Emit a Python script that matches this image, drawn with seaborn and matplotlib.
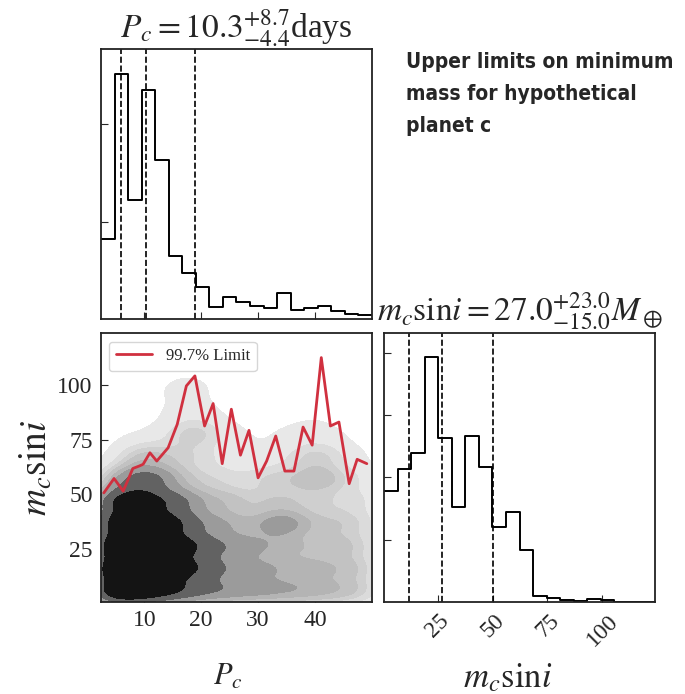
import numpy as np
import pandas as pd
import matplotlib
matplotlib.use("Agg")
import matplotlib.pyplot as plt
from matplotlib import font_manager
from matplotlib.colors import LinearSegmentedColormap
import seaborn as sns

# ---- data ----
p_range = (2.4, 50.0)
m_range = (0.5, 124.0)

# posterior sample counts per bin (20 bins each)
p_counts = [822, 2519, 1222, 2348, 1631, 648, 471, 324, 119, 222,
            171, 137, 109, 266, 96, 109, 130, 78, 51, 41]
m_counts = [894, 1067, 1192, 1963, 1319, 766, 1330, 1085, 601, 726,
            420, 48, 32, 16, 11, 21, 16, 0, 0, 0]

p_quant = [5.9, 10.3, 19.0]
m_quant = [12.0, 27.0, 50.0]

# 99.7% upper limit curve
limit_p = [2.9, 4.7, 6.3, 8.0, 9.1, 9.8, 11.0, 12.2, 14.2, 15.8, 17.4, 18.9,
           20.6, 22.1, 23.7, 25.3, 26.9, 28.4, 30.0, 31.5, 33.1, 34.7, 36.3,
           37.9, 39.5, 41.1, 42.7, 44.2, 46.0, 47.4, 49.1]
limit_m = [50.6, 57.2, 51.4, 61.8, 62.9, 63.7, 69.0, 65.2, 71.3, 82.1, 99.7, 104.3,
           81.3, 91.6, 64.0, 89.0, 67.9, 79.3, 57.5, 65.2, 76.7, 60.6, 60.6,
           80.8, 72.5, 112.7, 81.3, 83.1, 54.8, 66.0, 64.0]

# relative sample density (0-10), rows = m bins from bottom, cols = P bins
density = [
    [10, 10, 9, 8, 7, 6, 5, 4.5, 4, 4, 3.5, 3.5, 3.5, 3, 3, 3, 2.5, 2.5, 2, 2],
    [10, 10, 9, 9, 8, 7, 6, 5, 4, 3.5, 3, 3, 3, 2.5, 2.5, 2.5, 2.5, 2, 2, 2],
    [9, 10, 10, 9, 8, 7, 6, 5, 4, 3.5, 3.5, 3, 2.5, 2.5, 2, 2, 2, 2, 2, 1.5],
    [8, 8, 8, 8, 7, 6, 5, 3, 3, 3, 2, 2, 3, 6, 2, 2, 1.5, 2, 1.5, 1.5],
    [7, 7, 8, 6, 6, 4, 5, 1.5, 2, 3, 1, 1, 2, 2, 1, 1.5, 1, 1, 1.5, 1],
    [1, 4, 5, 6, 4, 2, 1.5, 1, 1.5, 1, 0.5, 1, 2, 1.5, 1, 3, 3, 1, 1, 0.8],
    [0, 0.3, 2, 3, 1, 1.5, 1.5, 1, 0.5, 0.5, 0.5, 0.3, 0.3, 0.3, 1, 2, 2, 0.5, 0.3, 0.3],
    [0.1, 0.2, 0.2, 0.2, 0.2, 0.8, 2.5, 2, 0.5, 0.3, 0.2, 0.2, 0.2, 0.2, 0.5, 0.5, 0.5, 0.2, 0.1, 0.1],
    [0, 0.1, 0.1, 0.1, 0.1, 0.3, 0.8, 0.5, 0.1, 0.1, 0.1, 0.1, 0.1, 0.1, 0.1, 0.2, 0.2, 0.1, 0, 0],
    [0, 0, 0, 0, 0.2, 0.3, 1, 0.2, 0, 0, 0, 0, 0, 0, 0, 0.3, 0.3, 0, 0, 0],
    [0, 0, 0, 0, 0, 0, 0.2, 0, 0, 0, 0, 0, 0, 0, 0, 0, 0.1, 0, 0, 0],
    [0] * 20,
]

# ---- style ----
sns.set_style("ticks")
plt.rcParams['font.family'] = ['Liberation Serif', 'DejaVu Serif']
plt.rcParams['mathtext.fontset'] = 'stix'
plt.rcParams['xtick.direction'] = 'in'
plt.rcParams['ytick.direction'] = 'in'
plt.rcParams['xtick.major.size'] = 5
plt.rcParams['ytick.major.size'] = 5
plt.rcParams['axes.linewidth'] = 1.3
plt.rcParams['axes.edgecolor'] = '#222222'

red = '#d0303f'
greys = LinearSegmentedColormap.from_list('g', ['#efefef', '#a0a0a0', '#202020', '#000000'])

p_edges = np.linspace(*p_range, 21)
m_edges = np.linspace(*m_range, 21)
p_hist = pd.DataFrame({'P': (p_edges[:-1] + p_edges[1:]) / 2, 'n': p_counts})
m_hist = pd.DataFrame({'m': (m_edges[:-1] + m_edges[1:]) / 2, 'n': m_counts})

g_edges_m = np.linspace(*m_range, 13)
g_mid_m = (g_edges_m[:-1] + g_edges_m[1:]) / 2
PP, MM = np.meshgrid(p_hist.P.values, g_mid_m)
dens = pd.DataFrame({'P': PP.ravel(), 'm': MM.ravel(), 'w': np.array(density).ravel()})
dens = dens[dens.w > 0]

fig = plt.figure(figsize=(6.85, 6.94), dpi=100)
ax_p = fig.add_axes([0.1474, 0.5403, 0.3956, 0.389])
ax_s = fig.add_axes([0.1474, 0.1326, 0.3956, 0.3876])
ax_m = fig.add_axes([0.5606, 0.1326, 0.3956, 0.3876])

m_label = r'$m_c{\rm sin}i$'

# P histogram
sns.histplot(data=p_hist, x='P', weights='n', bins=20, binrange=p_range,
             element='step', fill=False, color='k', linewidth=1.4, ax=ax_p)
for q in p_quant:
    ax_p.axvline(q, color='k', ls='--', lw=1.2)
ax_p.set_xlim(*p_range)
ax_p.set_ylim(0, 1.1 * max(p_counts))
ax_p.set_yticks([1000, 2000])
ax_p.set_xticks([10, 20, 30, 40])
ax_p.set_xticklabels([])
ax_p.set_yticklabels([])
ax_p.set_xlabel('')
ax_p.set_ylabel('')
ax_p.set_title(r'$P_c = 10.3^{+8.7}_{-4.4}$days', fontsize=24, pad=5)

# m histogram
sns.histplot(data=m_hist, x='m', weights='n', bins=20, binrange=m_range,
             element='step', fill=False, color='k', linewidth=1.4, ax=ax_m)
for q in m_quant:
    ax_m.axvline(q, color='k', ls='--', lw=1.2)
ax_m.set_xlim(*m_range)
ax_m.set_ylim(0, 1.1 * max(m_counts))
ax_m.set_yticks([500, 1000, 1500, 2000])
ax_m.set_yticklabels([])
ax_m.set_ylabel('')
ax_m.set_xticks([25, 50, 75, 100])
ax_m.set_xticklabels(['25', '50', '75', '100'], rotation=45, ha='center', fontsize=17)
ax_m.tick_params(axis='x', pad=6)
ax_m.set_xlabel(m_label, fontsize=25)
ax_m.xaxis.set_label_coords(0.455, -0.225)
ax_m.set_title(m_label[:-1] + r' = 27.0^{+23.0}_{-15.0} M_\oplus$', fontsize=24, pad=5)

# 2D samples
sns.kdeplot(data=dens, x='P', y='m', weights='w', fill=True, cmap=greys,
            levels=[0.01, 0.04, 0.08, 0.14, 0.22, 0.32, 0.45, 0.6, 1],
            bw_adjust=0.5, clip=(p_range, m_range), ax=ax_s)
sns.lineplot(x=limit_p, y=limit_m, color=red, lw=2, label='99.7% Limit', ax=ax_s)
ax_s.set_xlim(*p_range)
ax_s.set_ylim(*m_range)
ax_s.set_xticks([10, 20, 30, 40])
ax_s.set_yticks([25, 50, 75, 100])
ax_s.tick_params(labelsize=17, pad=6)
ax_s.set_xlabel(r'$P_c$', fontsize=22)
ax_s.set_ylabel(m_label, fontsize=27)
ax_s.xaxis.set_label_coords(0.467, -0.225)
ax_s.yaxis.set_label_coords(-0.17, 0.5)
ax_s.legend(loc='upper left', bbox_to_anchor=(0.03, 0.968), borderaxespad=0,
            fontsize=12, frameon=True, fancybox=True, handlelength=2.2)

# condensed bold font for the annotation, if one is installed
note_font = {'family': 'Roboto', 'weight': 'bold'}
for f in font_manager.fontManager.ttflist:
    fn = f.fname.lower()
    if ('condensed' in fn or 'narrow' in fn) and 'bold' in fn and 'oblique' not in fn and 'italic' not in fn:
        note_font = {'fname': f.fname}
        break
fp = font_manager.FontProperties(**note_font)
fp.set_size(17)
note = fig.text(0.593, 0.925, 'Upper limits on minimum\nmass for hypothetical\nplanet c',
                fontproperties=fp, va='top', ha='left', linespacing=1.75)
fig.canvas.draw()
w = note.get_window_extent().width
fp.set_size(17 * 268 / w)
note.set_fontproperties(fp)

fig.savefig('out.png', dpi=100)
